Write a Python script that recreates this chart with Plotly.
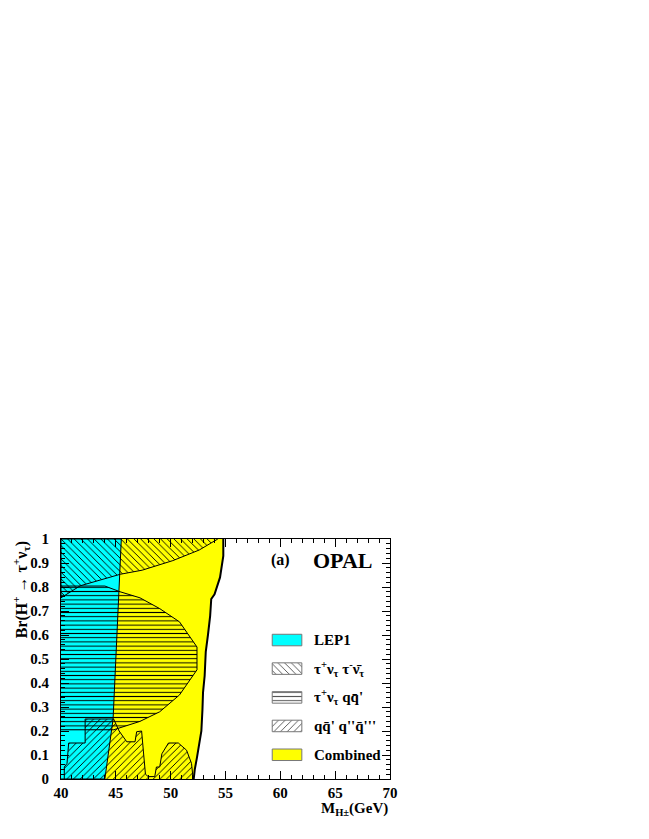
import plotly.graph_objects as go

# region boundaries (x = M_H+- in GeV, y = branching ratio)
combined_x = [40, 52.1, 52.2, 52.4, 52.8, 52.9, 52.95, 53.1, 53.2, 53.4, 53.6, 53.7, 54.0, 54.5, 54.8, 54.8, 40]
combined_y = [0, 0, 0.04, 0.09, 0.2, 0.29, 0.36, 0.43, 0.53, 0.6, 0.68, 0.75, 0.77, 0.84, 0.93, 1, 1]

lep1_x = [40, 44.0, 44.75, 45.5, 40]
lep1_y = [0, 0, 0.25, 1, 1]

tautau_x = [40, 40, 41.75, 45.4, 47.4, 50.2, 52.6, 54.3]
tautau_y = [1, 0.755, 0.805, 0.853, 0.87, 0.91, 0.954, 1]

tauqq_x = [40, 44.0, 45.4, 47.2, 49.0, 50.8, 52.4, 52.4, 50.8, 49.0, 47.2, 44.8, 40]
tauqq_y = [0.804, 0.804, 0.78, 0.755, 0.71, 0.655, 0.55, 0.455, 0.35, 0.28, 0.24, 0.205, 0.205]

qqqq_x = [40.3, 40.3, 40.55, 40.7, 42.2, 42.2, 44.8, 45.3, 46.0, 46.75, 46.9, 47.35, 47.7,
          47.95, 48.55, 48.7, 49.0, 49.2, 49.8, 50.7, 51.45, 51.9, 52.05]
qqqq_y = [0, 0.05, 0.065, 0.15, 0.15, 0.25, 0.25, 0.2, 0.155, 0.155, 0.197, 0.2, 0.02,
          0.01, 0.01, 0.05, 0.05, 0.105, 0.15, 0.15, 0.12, 0.065, 0]

labels = ["LEP1",
          "τ<sup>+</sup>ν<sub>τ</sub> τ<sup>-</sup>ν̄<sub>τ</sub>",
          "τ<sup>+</sup>ν<sub>τ</sub> qq̄'",
          "qq̄' q''q̄'''",
          "Combined"]

FONT = "Liberation Serif"
clear = "rgba(0,0,0,0)"
CYAN = "#00ffff"
YELLOW = "#ffff00"

# hatch styles: (pattern shape, size, solidity)
styles = {
    "tautau": ("\\", 4.7, 0.2),
    "tauqq": ("-", 4.2, 0.24),
    "qqqq": ("/", 4.7, 0.2),
}


def pattern(key, fg="black"):
    shape, size, solidity = styles[key]
    return dict(shape=shape, size=size, solidity=solidity,
                fgcolor=fg, bgcolor=clear, fgopacity=1)


fig = go.Figure()

fig.add_trace(go.Scatter(
    x=combined_x, y=combined_y, mode="lines", fill="toself", fillcolor=YELLOW,
    line=dict(color=YELLOW, width=0), showlegend=False,
))
# thick border of the combined exclusion
fig.add_trace(go.Scatter(
    x=combined_x[1:16], y=combined_y[1:16], mode="lines",
    line=dict(color="black", width=2), showlegend=False, hoverinfo="skip",
))
fig.add_trace(go.Scatter(
    x=lep1_x, y=lep1_y, mode="lines", fill="toself", fillcolor=CYAN,
    line=dict(color="black", width=1), showlegend=False,
))

for key, xs, ys in [("tautau", tautau_x, tautau_y),
                    ("tauqq", tauqq_x, tauqq_y),
                    ("qqqq", qqqq_x, qqqq_y)]:
    fig.add_trace(go.Scatter(
        x=xs, y=ys, mode="lines", fill="toself", fillcolor=clear,
        fillpattern=pattern(key), line=dict(color="black", width=1),
        showlegend=False,
    ))

# legend drawn ROOT-style in an overlay frame (0..1 in both directions)
leg_x0, leg_x1, leg_text_x = 0.642, 0.732, 0.762
leg_rows = [0.579, 0.460, 0.340, 0.221, 0.101]
leg_half = 0.024
leg_fill = [CYAN, None, None, None, YELLOW]
leg_pat = [None, "tautau", "tauqq", "qqqq", None]

for label, yc, fc, pk in zip(labels, leg_rows, leg_fill, leg_pat):
    box = dict(
        x=[leg_x0, leg_x1, leg_x1, leg_x0, leg_x0],
        y=[yc - leg_half, yc - leg_half, yc + leg_half, yc + leg_half, yc - leg_half],
        xaxis="x2", yaxis="y2", mode="lines", fill="toself",
        line=dict(color="#777777", width=1), showlegend=False, hoverinfo="skip",
    )
    if pk:
        box["fillcolor"] = "white"
        box["fillpattern"] = dict(pattern(pk, "#555555"), bgcolor="white")
    else:
        box["fillcolor"] = fc
    fig.add_trace(go.Scatter(**box))
    fig.add_annotation(
        text=label, xref="x2", yref="y2", x=leg_text_x, y=yc,
        xanchor="left", yanchor="middle", showarrow=False,
        font=dict(family=FONT, size=15, color="black", weight="bold"),
    )

axis_common = dict(
    showgrid=False, zeroline=False, showline=True, linecolor="black", linewidth=1,
    mirror="allticks", ticks="inside", ticklen=8, tickcolor="black",
    tickfont=dict(family=FONT, size=15, color="black", weight="bold"),
)

fig.update_xaxes(
    range=[40, 70], tickvals=[40, 45, 50, 55, 60, 65, 70],
    minor=dict(dtick=1, ticks="inside", ticklen=4, tickcolor="black"),
    **axis_common,
)
fig.update_yaxes(
    range=[0, 1], tickvals=[0, 0.1, 0.2, 0.3, 0.4, 0.5, 0.6, 0.7, 0.8, 0.9, 1],
    ticktext=["0", "0.1", "0.2", "0.3", "0.4", "0.5", "0.6", "0.7", "0.8", "0.9", "1"],
    minor=dict(dtick=0.02, ticks="inside", ticklen=4, tickcolor="black"),
    ticklabelstandoff=8,
    **axis_common,
)

fig.add_annotation(
    text="Br(H<sup>+</sup> → τ<sup>+</sup>ν<sub>τ</sub>)", textangle=-90,
    xref="paper", yref="paper", x=-0.122, y=1.0, xanchor="center", yanchor="top",
    showarrow=False, font=dict(family=FONT, size=16, color="black", weight="bold"),
)
fig.add_annotation(
    text="M<sub>H±</sub>(GeV)",
    xref="paper", yref="paper", x=1.0, y=-0.08, xanchor="right", yanchor="top",
    showarrow=False, font=dict(family=FONT, size=15, color="black", weight="bold"),
)
fig.add_annotation(
    text="(a)", xref="paper", yref="paper", x=0.666, y=0.9125,
    xanchor="center", yanchor="middle", showarrow=False,
    font=dict(family=FONT, size=16, color="black", weight="bold"),
)
fig.add_annotation(
    text="OPAL", xref="paper", yref="paper", x=0.857, y=0.9125,
    xanchor="center", yanchor="middle", showarrow=False,
    font=dict(family=FONT, size=22, color="black", weight="bold"),
)

fig.update_layout(
    width=641, height=831,
    margin=dict(l=53, r=259, t=531, b=60),
    paper_bgcolor="white", plot_bgcolor="white",
    font=dict(family=FONT, color="black"),
    xaxis2=dict(overlaying="x", range=[0, 1], visible=False, fixedrange=True),
    yaxis2=dict(overlaying="y", range=[0, 1], visible=False, fixedrange=True),
    showlegend=False,
)

fig.write_html("out.html")
